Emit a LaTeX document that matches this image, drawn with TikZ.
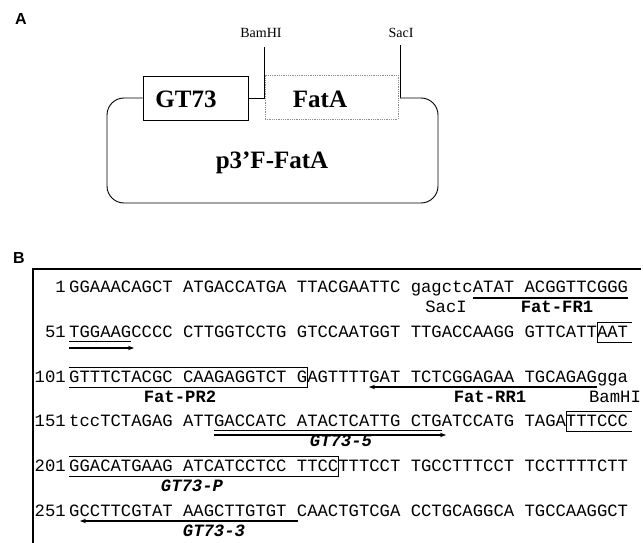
\documentclass[tikz,border=0pt]{standalone}
\usepackage{fontspec}
\setmainfont{Liberation Serif}
\setsansfont{Liberation Sans}
\setmonofont{Liberation Mono}
\usetikzlibrary{arrows.meta}
\tikzset{
  panel/.style={font=\sffamily\bfseries\fontsize{16}{18}\selectfont, inner sep=0pt},
  genebox/.style={rectangle, draw, line width=0.9pt, minimum height=44pt, inner sep=0pt},
  fatabox/.style={rectangle, draw=black!45, densely dotted, line width=0.8pt, minimum height=44pt, inner sep=0pt},
  genename/.style={font=\bfseries\fontsize{25}{28}\selectfont, inner sep=0pt},
  site/.style={font=\fontsize{14}{16}\selectfont, inner sep=0pt},
  seq/.style={font=\ttfamily\fontsize{17.25}{19}\selectfont, inner sep=0pt},
  primer/.style={font=\ttfamily\bfseries\fontsize{17.25}{19}\selectfont, inner sep=0pt},
  gtprimer/.style={font=\ttfamily\bfseries\itshape\fontsize{17.25}{19}\selectfont, inner sep=0pt},
  uline/.style={line width=0.6pt},
  pline/.style={line width=1.3pt},
  parrow/.style={-{Stealth[length=6pt, width=4.5pt]}, line width=1.3pt},
  pbox/.style={line width=0.7pt},
}
\begin{document}
\begin{tikzpicture}[x=1pt, y=-1pt]
  \useasboundingbox (0,0) rectangle (643,543);
  % panel A: the construct
  \node[panel] (labA) at (21,19) {A};
  \node[genebox, minimum width=105pt] (gt) at (195.5,98) {};
  \node[fatabox, minimum width=133pt] (fata) at (331.5,97) {};
  \node[genename] (gtname) at (186,99) {GT73};
  \node[genename] (fataname) at (320,99) {FatA};
  \node[genename] (plasname) at (272,163) {p3'F-FatA};
  \node[site] (bam) at (261,33) {BamHI};
  \node[site] (sac) at (401,33) {SacI};
  \coordinate (bamtop) at (264,47);
  \coordinate (sactop) at (400,45);
  \coordinate (sacfoot) at (400,98);
  \draw[line width=0.9pt, rounded corners=17pt] (gt.west) -| (107,203) -| (438,98) -- (sacfoot);
  \draw[line width=0.9pt] (sacfoot) -- (sactop);
  \draw[line width=0.9pt] (gt.east) -| (bamtop);
  % panel B: the sequence
  \node[panel] (labB) at (19,258) {B};
  \draw[line width=1.2pt] (33,543) -- (33,269) -- (641,269);
  \node[seq, anchor=base east] (n1) at (66,292) {1};
  \node[seq, anchor=base east] (n51) at (66,337) {51};
  \node[seq, anchor=base east] (n101) at (66,382) {101};
  \node[seq, anchor=base east] (n151) at (66,426) {151};
  \node[seq, anchor=base east] (n201) at (66,471) {201};
  \node[seq, anchor=base east] (n251) at (66,516) {251};
  \node[seq, anchor=base west] (r1) at (69,292) {GGAAACAGCT ATGACCATGA TTACGAATTC gagctcATAT ACGGTTCGGG};
  \node[seq, anchor=base west] (r2) at (69,337) {TGGAAGCCCC CTTGGTCCTG GTCCAATGGT TTGACCAAGG GTTCATTAAT};
  \node[seq, anchor=base west] (r3) at (69,382) {GTTTCTACGC CAAGAGGTCT GAGTTTTGAT TCTCGGAGAA TGCAGAGgga};
  \node[seq, anchor=base west] (r4) at (69,426) {tccTCTAGAG ATTGACCATC ATACTCATTG CTGATCCATG TAGATTTCCC};
  \node[seq, anchor=base west] (r5) at (69,471) {GGACATGAAG ATCATCCTCC TTCCTTTCCT TGCCTTTCCT TCCTTTTCTT};
  \node[seq, anchor=base west] (r6) at (69,516) {GCCTTCGTAT AAGCTTGTGT CAACTGTCGA CCTGCAGGCA TGCCAAGGCT};
  % site and primer names
  \node[seq, anchor=base] (sacB) at (446,312) {SacI};
  \node[primer, anchor=base] (fr1) at (557,312) {Fat-FR1};
  \node[primer, anchor=base] (pr2) at (180,402) {Fat-PR2};
  \node[primer, anchor=base] (rr1) at (490,402) {Fat-RR1};
  \node[seq, anchor=base] (bamB) at (615,402) {BamHI};
  \node[gtprimer, anchor=base] (gt5) at (341,446) {GT73-5};
  \node[gtprimer, anchor=base] (gtp) at (192,491) {GT73-P};
  \node[gtprimer, anchor=base] (gt3) at (214,536) {GT73-3};
  % underlines, arrows and boxes
  \draw[pline] (472.6,298) -- (628,298);
  \draw[uline] (69,341) -- (131,341);
  \draw[parrow] (69,348) -- (134,348);
  \draw[pbox] (632,322) -- (597,322) -- (597,342) -- (632,342);
  \draw[pbox] (69,367) -- (307,367) -- (307,387) -- (69,387);
  \draw[parrow] (597,387) -- (369,387);
  \draw[uline] (214,430) -- (442,430);
  \draw[parrow] (214,435) -- (446,435);
  \draw[pbox] (632,411) -- (566,411) -- (566,431) -- (632,431);
  \draw[pbox] (69,456) -- (338,456) -- (338,476) -- (69,476);
  \draw[parrow] (298,521) -- (80,521);
\end{tikzpicture}
\end{document}
